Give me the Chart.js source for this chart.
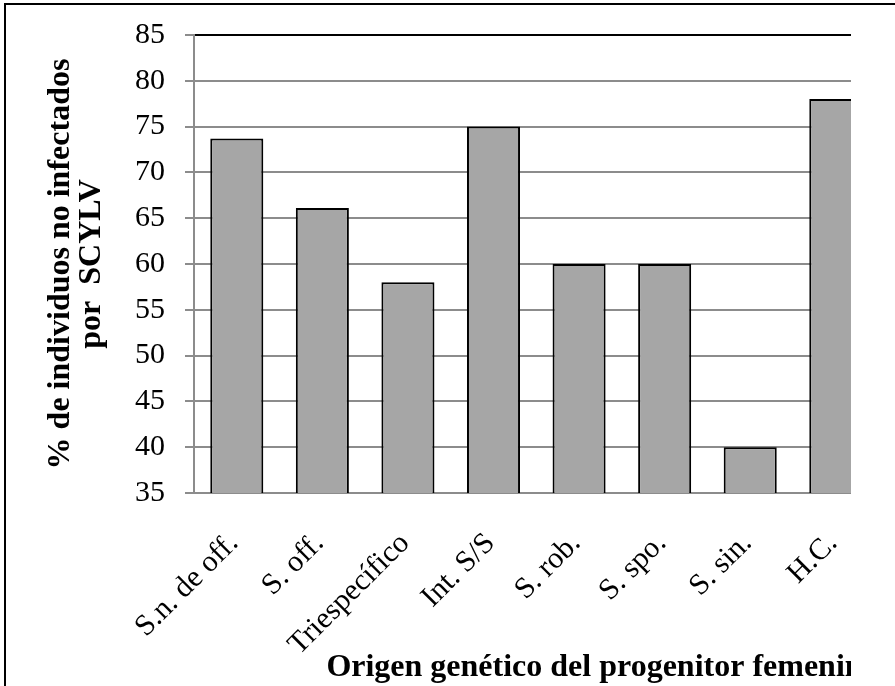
<!DOCTYPE html>
<html>
<head>
<meta charset="utf-8">
<script src="https://cdn.jsdelivr.net/npm/chart.js@4.4.0/dist/chart.umd.min.js"></script>
<style>
  body { margin: 0; background: #fff; }
  #clip { position: absolute; left: 0; top: 0; width: 851px; height: 686px; overflow: hidden; }
  #frame { position: absolute; left: 4px; top: 3px; width: 900px; height: 700px;
           border-left: 2px solid #000; border-top: 2px solid #000; pointer-events: none; }
</style>
</head>
<body>
<div id="clip"><canvas id="originChart" width="895" height="687"></canvas></div>
<div id="frame"></div>
<script>
// Categories (origen genetico del progenitor femenino)
var categories = ["S.n. de off.", "S. off.", "Triespecífico", "Int. S/S", "S. rob.", "S. spo.", "S. sin.", "H.C."];

// % de individuos no infectados por SCYLV
var noInfectados = [73.7, 66.1, 58, 75, 60, 60, 40, 78];

// y axis ticks
var yTicks = [35, 40, 45, 50, 55, 60, 65, 70, 75, 80, 85];

var serif = "'Liberation Serif', 'Times New Roman', serif";
var ctx = document.getElementById("originChart").getContext("2d");

var chart = new Chart(ctx, {
    type: "bar",
    data: {
        labels: categories,
        datasets: [{
            data: noInfectados,
            backgroundColor: "#a6a6a6",
            borderColor: "#000000",
            borderWidth: 2,
            borderSkipped: "bottom",
            barPercentage: 0.62,
            categoryPercentage: 1.0
        }]
    },
    options: {
        responsive: false,
        animation: false,
        devicePixelRatio: 1,
        layout: { padding: { left: 0, right: 12, top: 35, bottom: 0 } },
        plugins: { legend: { display: false }, tooltip: { enabled: false } },
        scales: {
            x: {
                grid: { display: false, drawTicks: false },
                border: { color: "#8c8c8c", width: 2 },
                ticks: {
                    color: "#000",
                    font: { family: serif, size: 30 },
                    maxRotation: 45, minRotation: 45,
                    padding: 33,
                    labelOffset: -3
                },
                title: {
                    display: true,
                    align: "end",
                    text: "Origen genético del progenitor femenino",
                    color: "#000",
                    font: { family: serif, size: 32, weight: "bold" },
                    padding: { top: 0, bottom: 0 }
                },
                afterFit: function (s) { s.height = 194; }
            },
            y: {
                min: 35, max: 85,
                afterBuildTicks: function (s) { s.ticks = yTicks.map(function (v) { return { value: v }; }); },
                grid: {
                    color: function (c) { return c.tick && c.tick.value === 85 ? "#000" : "#8c8c8c"; },
                    tickColor: "#8c8c8c",
                    lineWidth: 2,
                    tickLength: 9
                },
                border: { color: "#8c8c8c", width: 2 },
                ticks: {
                    color: "#000",
                    font: { family: serif, size: 30 },
                    padding: 20
                },
                title: {
                    display: true,
                    text: ["% de individuos no infectados", "por  SCYLV"],
                    color: "#000",
                    font: { family: serif, size: 32, weight: "bold", lineHeight: 0.95 },
                    padding: { top: 46, bottom: 0 }
                },
                afterFit: function (s) {
                    s.width = 194;
                    s.paddingTop = 0;
                    s.paddingBottom = 0;
                }
            }
        }
    }
});
</script>
</body>
</html>
